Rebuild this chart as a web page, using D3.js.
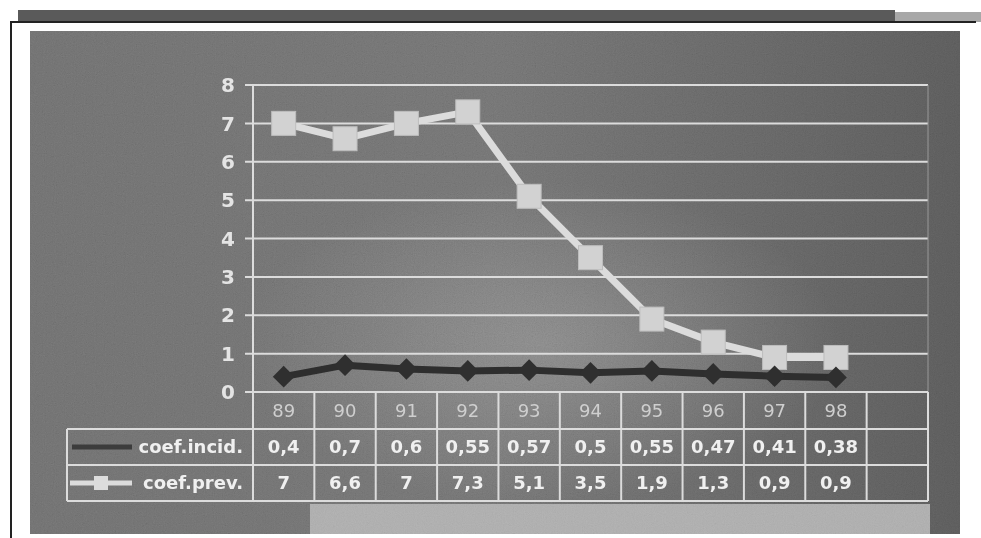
<!DOCTYPE html>
<html>
<head>
<meta charset="utf-8">
<script src="https://cdn.jsdelivr.net/npm/d3@7"></script>
<style>
  body { margin: 0; background: #fff; }
  text { font-family: "DejaVu Sans", Verdana, sans-serif; }
</style>
</head>
<body>
<svg id="chart" width="981" height="538"></svg>
<script>
// data
var years = ["89", "90", "91", "92", "93", "94", "95", "96", "97", "98"]
var incid = [0.4, 0.7, 0.6, 0.55, 0.57, 0.5, 0.55, 0.47, 0.41, 0.38]
var prev = [7, 6.6, 7, 7.3, 5.1, 3.5, 1.9, 1.3, 0.9, 0.9]
var incidLabels = ["0,4", "0,7", "0,6", "0,55", "0,57", "0,5", "0,55", "0,47", "0,41", "0,38"]
var prevLabels = ["7", "6,6", "7", "7,3", "5,1", "3,5", "1,9", "1,3", "0,9", "0,9"]
var yTicks = [0, 1, 2, 3, 4, 5, 6, 7, 8]
var seriesNames = ["coef.incid.", "coef.prev."]

var svg = d3.select("#chart")

// excel left an empty 11th category at the end
var x = d3.scaleBand().domain(years.concat([" "])).range([253, 928]).padding(0)
var y = d3.scaleLinear().domain([0, 8]).range([392, 85])

var defs = svg.append("defs")
var grad = defs.append("linearGradient").attr("id", "bg")
grad.append("stop").attr("offset", "0%").attr("stop-color", "#6c6c6c")
grad.append("stop").attr("offset", "50%").attr("stop-color", "#6f6f6f")
grad.append("stop").attr("offset", "100%").attr("stop-color", "#585858")
var glow = defs.append("radialGradient").attr("id", "glow")
  .attr("cx", "0.55").attr("cy", "0.62").attr("r", "0.32")
glow.append("stop").attr("offset", "0%").attr("stop-color", "#a0a0a0").attr("stop-opacity", 0.45)
glow.append("stop").attr("offset", "100%").attr("stop-color", "#a0a0a0").attr("stop-opacity", 0)

var noise = defs.append("filter").attr("id", "noise")
  .attr("x", 0).attr("y", 0).attr("width", 1).attr("height", 1)
noise.append("feTurbulence").attr("type", "fractalNoise").attr("baseFrequency", 0.9).attr("numOctaves", 2).attr("seed", 3)
noise.append("feColorMatrix").attr("type", "matrix")
  .attr("values", "0.33 0.33 0.33 0 0  0.33 0.33 0.33 0 0  0.33 0.33 0.33 0 0  0 0 0 0 1")

// scan frame
svg.append("rect").attr("x", 18).attr("y", 10).attr("width", 877).attr("height", 12).attr("fill", "#5a5a5a")
svg.append("rect").attr("x", 895).attr("y", 12).attr("width", 86).attr("height", 10).attr("fill", "#a8a8a8")
svg.append("path").attr("d", "M11,538V22H976").attr("fill", "none").attr("stroke", "#222").attr("stroke-width", 2)

// panel
svg.append("rect").attr("x", 30).attr("y", 31).attr("width", 930).attr("height", 503).attr("fill", "url(#bg)")
svg.append("rect").attr("x", 30).attr("y", 31).attr("width", 930).attr("height", 503).attr("fill", "url(#glow)")
svg.append("rect").attr("x", 310).attr("y", 504).attr("width", 620).attr("height", 30).attr("fill", "#a9a9a9")
svg.append("rect").attr("x", 30).attr("y", 31).attr("width", 930).attr("height", 503)
  .attr("fill", "#808080").attr("filter", "url(#noise)").attr("opacity", 0.18)
  .style("mix-blend-mode", "overlay")

var light = "#dcdcdc"

// gridlines
svg.append("g").selectAll("line")
  .data(yTicks.slice(1))
  .enter()
  .append("line")
  .attr("x1", 245).attr("x2", x.range()[1])
  .attr("y1", d => y(d)).attr("y2", d => y(d))
  .attr("stroke", light).attr("stroke-width", 2)

svg.append("line").attr("x1", 253).attr("x2", 253).attr("y1", y(8)).attr("y2", y(0))
  .attr("stroke", light).attr("stroke-width", 2)
svg.append("line").attr("x1", x.range()[1]).attr("x2", x.range()[1]).attr("y1", y(8)).attr("y2", y(0))
  .attr("stroke", "#999").attr("stroke-width", 1)

svg.append("g").selectAll("text")
  .data(yTicks)
  .enter()
  .append("text")
  .attr("x", 235).attr("y", d => y(d))
  .attr("dy", "0.36em")
  .attr("text-anchor", "end")
  .attr("fill", "#e4e4e4")
  .attr("font-size", 20).attr("font-weight", "bold")
  .text(d => d)

// data table
var rowTop = [392, 429, 465, 501]
var table = svg.append("g").attr("stroke", light).attr("stroke-width", 2)
table.append("line").attr("x1", 245).attr("x2", x.range()[1]).attr("y1", rowTop[0]).attr("y2", rowTop[0])
rowTop.slice(1).forEach(function(r) {
  table.append("line").attr("x1", 67).attr("x2", x.range()[1]).attr("y1", r).attr("y2", r)
})
table.append("line").attr("x1", 67).attr("x2", 67).attr("y1", rowTop[1]).attr("y2", rowTop[3])
table.selectAll(".vl")
  .data(x.domain().map(d => x(d)).concat([x.range()[1]]))
  .enter()
  .append("line")
  .attr("x1", d => d).attr("x2", d => d)
  .attr("y1", rowTop[0]).attr("y2", rowTop[3])

function cellText(labels, row, opts) {
  svg.append("g").selectAll("text")
    .data(labels)
    .enter()
    .append("text")
    .attr("x", (d, i) => x(years[i]) + x.bandwidth() / 2)
    .attr("y", (rowTop[row] + rowTop[row + 1]) / 2)
    .attr("dy", "0.36em")
    .attr("text-anchor", "middle")
    .attr("fill", opts.fill)
    .attr("font-size", opts.size)
    .attr("font-weight", opts.weight)
    .text(d => d)
}
cellText(years, 0, { fill: "#cfcfcf", size: 18, weight: "normal" })
cellText(incidLabels, 1, { fill: "#f0f0f0", size: 18, weight: "bold" })
cellText(prevLabels, 2, { fill: "#f0f0f0", size: 18, weight: "bold" })

// row labels with legend keys
seriesNames.forEach(function(name, i) {
  var cy = (rowTop[i + 1] + rowTop[i + 2]) / 2
  svg.append("text")
    .attr("x", 243).attr("y", cy).attr("dy", "0.36em")
    .attr("text-anchor", "end")
    .attr("fill", "#f0f0f0").attr("font-size", 18).attr("font-weight", "bold")
    .text(name)
})
var k1 = (rowTop[1] + rowTop[2]) / 2, k2 = (rowTop[2] + rowTop[3]) / 2
svg.append("line").attr("x1", 72).attr("x2", 132).attr("y1", k1).attr("y2", k1)
  .attr("stroke", "#3c3c3c").attr("stroke-width", 5)
svg.append("line").attr("x1", 70).attr("x2", 132).attr("y1", k2).attr("y2", k2)
  .attr("stroke", light).attr("stroke-width", 5)
svg.append("rect").attr("x", 94).attr("y", k2 - 7).attr("width", 14).attr("height", 14).attr("fill", light)

// series lines
var cx = (d, i) => x(years[i]) + x.bandwidth() / 2
var line = d3.line().x(cx).y(d => y(d))

svg.append("path").datum(prev)
  .attr("d", line).attr("fill", "none")
  .attr("stroke", light).attr("stroke-width", 7).attr("stroke-linejoin", "round")
svg.append("path").datum(incid)
  .attr("d", line).attr("fill", "none")
  .attr("stroke", "#2e2e2e").attr("stroke-width", 7).attr("stroke-linejoin", "round")

svg.append("g").selectAll("rect")
  .data(prev)
  .enter()
  .append("rect")
  .attr("x", (d, i) => cx(d, i) - 12)
  .attr("y", d => y(d) - 12)
  .attr("width", 24).attr("height", 24)
  .attr("fill", "#d2d2d2").attr("stroke", "#bdbdbd").attr("stroke-width", 1)

svg.append("g").selectAll("path")
  .data(incid)
  .enter()
  .append("path")
  .attr("d", d3.symbol().type(d3.symbolDiamond2).size(300))
  .attr("transform", (d, i) => "translate(" + cx(d, i) + "," + y(d) + ")")
  .attr("fill", "#2f2f2f")
</script>
</body>
</html>
